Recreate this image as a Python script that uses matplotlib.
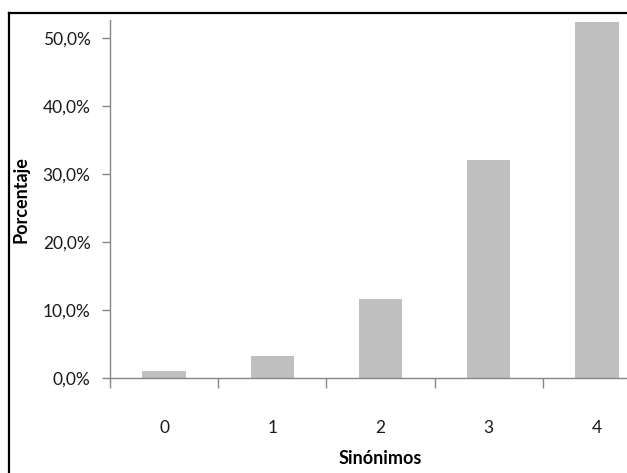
import matplotlib
matplotlib.use("Agg")
import matplotlib.pyplot as plt
from matplotlib.lines import Line2D
from matplotlib.ticker import FuncFormatter, FixedLocator

categories = ["0", "1", "2", "3", "4"]
porcentajes = [1.0, 3.2, 11.6, 32.0, 52.3]
y_ticks = [0, 10, 20, 30, 40, 50]

W, H = 627, 473
fig = plt.figure(figsize=(W / 100, H / 100), dpi=100)
plt.rcParams["font.family"] = ["Lato", "DejaVu Sans"]

# plot area in pixels (left, top, right, bottom) - right edge is cropped off the figure
left, top, right, bottom = 110, 20, 651, 378
ax = fig.add_axes([left / W, (H - bottom) / H, (right - left) / W, (bottom - top) / H])

x = range(len(categories))
ax.bar(x, porcentajes, width=0.4, color="#bfbfbf", zorder=2)

ax.set_xlim(-0.5, len(categories) - 0.5)
ax.set_ylim(0, 52.6)

ax.set_yticks(y_ticks)
ax.yaxis.set_major_formatter(FuncFormatter(lambda v, _: f"{v:.1f}%".replace(".", ",")))
ax.set_xticks(list(x))
ax.set_xticklabels(categories)
ax.xaxis.set_minor_locator(FixedLocator([i - 0.5 for i in range(len(categories) + 1)]))

ax.tick_params(axis="y", direction="out", length=6, width=1, color="#868686",
               labelsize=12.5, pad=8, labelcolor="#1a1a1a")
ax.tick_params(axis="x", which="major", length=0, pad=30, labelsize=12.5, labelcolor="#1a1a1a")
ax.tick_params(axis="x", which="minor", direction="out", length=7, width=1, color="#868686")

for s in ["top", "right"]:
    ax.spines[s].set_visible(False)
for s in ["left", "bottom"]:
    ax.spines[s].set_color("#868686")
    ax.spines[s].set_linewidth(1)

fig.text(380 / W, 1 - 458 / H, "Sinónimos", ha="center", va="center",
         fontsize=13, fontweight="bold")
fig.text(21 / W, 1 - 200 / H, "Porcentaje", ha="center", va="center",
         rotation=90, fontsize=13, fontweight="bold")

# outer chart frame (only left and top edges visible in the crop)
fig.add_artist(Line2D([8.5 / W, 8.5 / W], [0, 1 - 13.5 / H], color="black", lw=1.6,
                      transform=fig.transFigure))
fig.add_artist(Line2D([8.5 / W, 1], [1 - 13.5 / H, 1 - 13.5 / H], color="black", lw=1.6,
                      transform=fig.transFigure))

fig.savefig("out.png", dpi=100)
